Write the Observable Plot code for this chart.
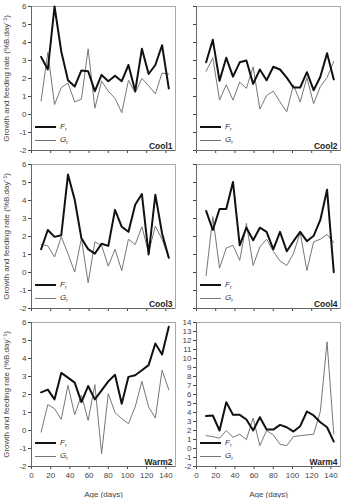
<!DOCTYPE html>
<html>
<head>
<meta charset="utf-8">
<script src="https://cdn.jsdelivr.net/npm/d3@7"></script>
<script src="https://cdn.jsdelivr.net/npm/@observablehq/plot@0.6"></script>
<style>
  html, body { margin: 0; padding: 0; background: #fff; }
  #wrap { position: relative; width: 343px; height: 498px; overflow: hidden; font-family: "Liberation Sans", Arial, sans-serif; }
  .panel { position: absolute; }
  .panel svg { display: block; }
  .leg { position: absolute; font-size: 8px; color: #333; line-height: 8px; white-space: nowrap; }
  .leg .ln { position: absolute; left: 0; width: 21px; top: 4px; }
  .leg .tx { position: absolute; left: 25px; top: 0; }
  .leg i { font-style: italic; }
  .leg sub { font-size: 5px; vertical-align: -2px; }
</style>
</head>
<body>
<div id="wrap"></div>
<script>
// ---- data ----
const days = [10, 17, 24, 31, 38, 45, 52, 59, 66, 73, 80, 87, 94, 101, 108, 115, 122, 129, 136, 143];
const xTicks = [0, 20, 40, 60, 80, 100, 120, 140];
const xDomain = [0, 150];
const yTicksCool = [-2, -1, 0, 1, 2, 3, 4, 5, 6];
const yTicksWarm4 = [-2, -1, 0, 1, 2, 3, 4, 5, 6, 7, 8, 9, 10, 11, 12, 13, 14];

const cool1F = [3.2, 2.5, 6.0, 3.5, 1.9, 1.55, 2.45, 2.4, 1.3, 2.2, 1.85, 2.15, 1.85, 2.75, 1.3, 3.65, 2.25, 2.75, 3.85, 1.45];
const cool1G = [0.75, 3.45, 0.55, 1.5, 1.75, 0.7, 0.85, 3.65, 0.35, 1.85, 1.3, 0.9, 0.1, 1.9, 1.2, 2.0, 1.6, 1.15, 2.3, 2.25];

const cool2F = [2.9, 4.15, 1.87, 3.15, 2.1, 2.9, 3.0, 1.7, 2.5, 1.9, 2.65, 2.5, 2.05, 1.5, 1.5, 2.35, 1.35, 2.1, 3.4, 1.95];
const cool2G = [2.4, 3.15, 0.8, 1.65, 0.8, 1.8, 1.45, 2.65, 0.3, 1.05, 1.3, 0.7, 0.15, 1.65, 0.7, 2.05, 0.6, 1.55, 2.05, 2.95];

const cool3F = [1.29, 2.36, 1.98, 2.07, 5.44, 4.04, 1.9, 1.3, 1.05, 1.6, 1.48, 3.48, 2.54, 2.26, 3.76, 4.36, 1.0, 4.32, 2.17, 0.82];
const cool3G = [1.55, 1.48, 0.86, 1.98, 1.05, 0.02, 1.9, -0.58, 1.7, 1.5, 0.35, 1.29, 0.1, 1.85, 1.55, 2.54, 1.1, 2.58, 1.85, 0.8];

const cool4F = [3.42, 2.36, 3.53, 3.53, 5.03, 1.51, 2.49, 1.79, 2.49, 2.26, 1.29, 2.26, 1.18, 1.74, 2.26, 1.74, 2.04, 2.92, 4.6, 0.02];
const cool4G = [-0.17, 3.1, 0.24, 1.36, 1.51, 0.67, 2.73, 0.39, 1.42, 1.85, 1.18, 0.64, 0.39, 1.05, 2.22, 0.11, 1.7, 1.85, 2.11, 1.66];

const warm2F = [2.12, 2.27, 1.73, 3.2, 2.94, 2.66, 1.58, 2.47, 1.73, 2.23, 2.73, 3.1, 1.49, 2.98, 3.07, 3.35, 3.63, 4.83, 4.22, 5.76];
const warm2G = [-0.09, 1.44, 1.21, 0.62, 2.51, 0.88, 1.96, 0.56, 2.55, -1.29, 2.05, 0.99, 0.66, 0.38, 1.31, 2.73, 1.31, 0.69, 3.35, 2.27];

const warm4F = [3.6, 3.67, 2.0, 5.15, 3.74, 3.74, 3.22, 2.0, 3.48, 2.1, 2.1, 2.62, 2.36, 1.88, 2.48, 4.11, 3.67, 2.92, 2.36, 0.77];
const warm4G = [1.43, 1.32, 1.14, 1.99, 1.25, 1.58, 1.0, 3.37, 0.32, 2.0, 1.51, 0.47, 0.32, 1.32, 1.43, 1.51, 1.58, 4.11, 11.85, 1.62];

const panelNames = ["Cool1", "Cool2", "Cool3", "Cool4", "Warm2", "Warm4"];
const yTitle = "Growth and feeding rate (%B.day\u207B\u00B9)";
const xTitle = "Age (days)";

// ---- layout ----
const panels = [
  {name: panelNames[0], F: cool1F, G: cool1G, col: 0, row: 0, yTicks: yTicksCool},
  {name: panelNames[1], F: cool2F, G: cool2G, col: 1, row: 0, yTicks: yTicksCool},
  {name: panelNames[2], F: cool3F, G: cool3G, col: 0, row: 1, yTicks: yTicksCool},
  {name: panelNames[3], F: cool4F, G: cool4G, col: 1, row: 1, yTicks: yTicksCool},
  {name: panelNames[4], F: warm2F, G: warm2G, col: 0, row: 2, yTicks: yTicksCool},
  {name: panelNames[5], F: warm4F, G: warm4G, col: 1, row: 2, yTicks: yTicksWarm4}
];

const colGeom = [
  {left: 0, width: 177, marginLeft: 31, marginRight: 2},
  {left: 170, width: 173, marginLeft: 26, marginRight: 3}
];
const rowTops = [0, 158, 316];
const innerH = 144;
const marginTop = 6;

const wrap = document.getElementById("wrap");

panels.forEach(p => {
  const cg = colGeom[p.col];
  const bottomRow = p.row === 2;
  const marginBottom = bottomRow ? 32 : 7;
  const height = marginTop + innerH + marginBottom;
  const yDomain = [p.yTicks[0], p.yTicks[p.yTicks.length - 1]];
  const data = days.map((d, i) => ({day: d, F: p.F[i], G: p.G[i]}));

  const chart = Plot.plot({
    width: cg.width,
    height,
    marginLeft: cg.marginLeft,
    marginRight: cg.marginRight,
    marginTop,
    marginBottom,
    style: {fontSize: "8px", fontFamily: "'Liberation Sans', Arial, sans-serif", color: "#444", background: "transparent", overflow: "visible"},
    x: {
      domain: xDomain,
      ticks: xTicks,
      tickSize: 3,
      tickPadding: 3,
      tickFormat: bottomRow ? (d => String(d)) : (() => ""),
      label: bottomRow ? xTitle : null,
      labelAnchor: "center",
      labelOffset: 30,
      labelArrow: false
    },
    y: {
      domain: yDomain,
      ticks: p.yTicks,
      tickSize: 3,
      tickPadding: 2,
      tickFormat: p.col === 0 || p.name === "Warm4" ? (d => String(d)) : (() => ""),
      label: p.col === 0 ? yTitle : null,
      labelAnchor: "center",
      labelOffset: 28,
      labelArrow: false
    },
    marks: [
      Plot.frame({stroke: "#aaa", strokeWidth: 1}),
      Plot.ruleX([xDomain[0]], {stroke: "#666", strokeWidth: 1}),
      Plot.ruleY([yDomain[0]], {stroke: "#666", strokeWidth: 1}),
      Plot.line(data, {x: "day", y: "G", stroke: "#777", strokeWidth: 1}),
      Plot.line(data, {x: "day", y: "F", stroke: "#111", strokeWidth: 2}),
      Plot.text([p.name], {frameAnchor: "bottom-right", dx: -3, dy: -2, fontWeight: "bold", fontSize: 8.5, fill: "#222"})
    ]
  });

  const div = document.createElement("div");
  div.className = "panel";
  div.style.left = cg.left + "px";
  div.style.top = rowTops[p.row] + "px";
  div.appendChild(chart);

  // legend overlay (inside the frame, bottom-left)
  const frameLeft = cg.marginLeft;
  const frameBottom = marginTop + innerH;
  const legItems = [
    {sym: "F", color: "#111", w: 2, off: 23},
    {sym: "G", color: "#777", w: 1, off: 10}
  ];
  legItems.forEach(it => {
    const lg = document.createElement("div");
    lg.className = "leg";
    lg.style.left = (frameLeft + 4) + "px";
    lg.style.top = (frameBottom - it.off - 4) + "px";
    lg.innerHTML = `<div class="ln" style="border-top:${it.w}px solid ${it.color};margin-top:${-it.w/2}px"></div><div class="tx"><i>${it.sym}</i><sub>r</sub></div>`;
    div.appendChild(lg);
  });

  wrap.appendChild(div);
});
</script>
</body>
</html>
